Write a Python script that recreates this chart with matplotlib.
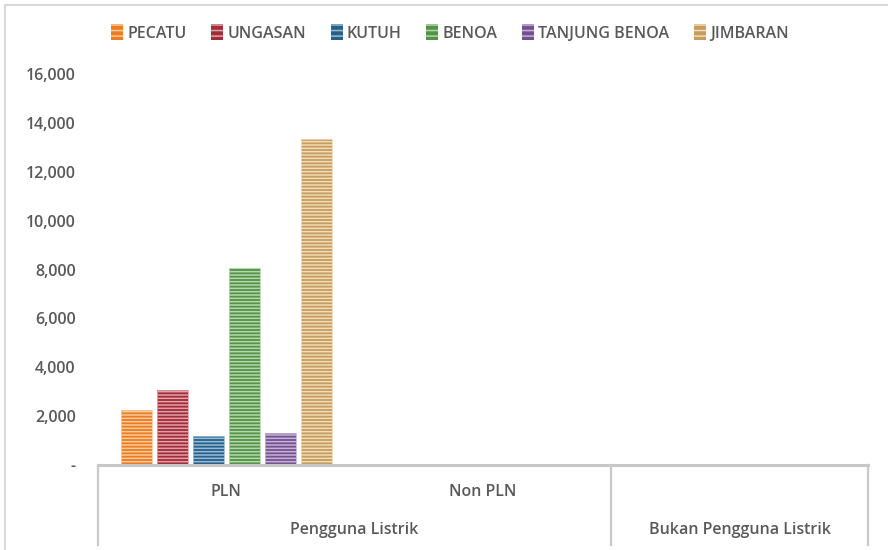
import matplotlib
matplotlib.use("Agg")
import matplotlib.pyplot as plt
from matplotlib.patches import Rectangle, Patch
from matplotlib.ticker import FuncFormatter

plt.rcParams['font.family'] = ['Open Sans', 'DejaVu Sans']

# ---- data ----
categories = ["PLN", "Non PLN", ""]
groups = ["Pengguna Listrik", "Bukan Pengguna Listrik"]
series = ["PECATU", "UNGASAN", "KUTUH", "BENOA", "TANJUNG BENOA", "JIMBARAN"]
pecatu = [2250, 0, 0]
ungasan = [3070, 0, 0]
kutuh = [1200, 0, 0]
benoa = [8050, 0, 0]
tanjung_benoa = [1300, 0, 0]
jimbaran = [13320, 0, 0]
yticks = [0, 2000, 4000, 6000, 8000, 10000, 12000, 14000, 16000]

values = [pecatu, ungasan, kutuh, benoa, tanjung_benoa, jimbaran]
face = ["#EA7C24", "#A22C39", "#265F89", "#539347", "#735190", "#C59C5B"]
hatchc = ["#FACB9A", "#DFA0A8", "#98BCD6", "#B5D7AC", "#C6B1D7", "#EFDCB9"]

W, H = 888, 550
fig = plt.figure(figsize=(W / 100, H / 100), dpi=100)
ax = fig.add_axes([98 / W, 1 - 465 / H, (868 - 98) / W, (465 - 74) / H])

plt.rcParams['hatch.linewidth'] = 1.1
step = 0.14
bw = 0.121
for i, (name, vals) in enumerate(zip(series, values)):
    for j, v in enumerate(vals):
        if v <= 0:
            continue
        x = j + (i - 2.5) * step
        ax.bar(x, v, width=bw, color=face[i], edgecolor=hatchc[i],
               hatch='-----', linewidth=0, zorder=2)
        ax.bar(x, v, width=bw, facecolor='none', edgecolor=hatchc[i],
               linewidth=0.6, zorder=3)

ax.set_xlim(-0.5, 2.5)
ax.set_ylim(0, 16000)
ax.set_yticks(yticks)
ax.yaxis.set_major_formatter(FuncFormatter(lambda v, p: "-" if v == 0 else f"{int(v):,}"))
ax.tick_params(axis='y', length=0, pad=16, labelsize=11.5, labelcolor="#595959")
for lab in ax.get_yticklabels():
    lab.set_fontweight('semibold')
ax.set_xticks([])
for s in ax.spines.values():
    s.set_visible(False)

grey = "#C8C8C8"
ax.axhline(0, color=grey, lw=2.2, zorder=4, clip_on=False)
tr = ax.get_xaxis_transform()
for xv in [-0.5, 1.5, 2.5]:
    ax.plot([xv, xv], [0, -0.205], transform=tr, color=grey, lw=1.6, clip_on=False)

tcol = "#595959"
for j, c in enumerate(categories):
    if c:
        ax.text(j, -0.069, c, transform=tr, ha='center', va='center',
                fontsize=11.5, color=tcol, fontweight='semibold')
ax.text(0.5, -0.166, groups[0], transform=tr, ha='center', va='center',
        fontsize=11.5, color=tcol, fontweight='semibold')
ax.text(2.0, -0.166, groups[1], transform=tr, ha='center', va='center',
        fontsize=11.5, color=tcol, fontweight='semibold')

handles = [Patch(facecolor=face[i], edgecolor=hatchc[i], hatch='---', linewidth=0)
           for i in range(len(series))]
fig.legend(handles, series, loc='center', bbox_to_anchor=(450 / W, 1 - 33 / H),
           ncol=6, frameon=False, prop={'size': 11.5, 'weight': 'semibold'},
           labelcolor=tcol, handlelength=0.75, handleheight=1.1,
           handletextpad=0.25, columnspacing=1.55)

fig.patches.append(Rectangle((5 / W, -0.01), 1.0, 1 - 5 / H + 0.01,
                             transform=fig.transFigure, fill=False,
                             edgecolor="#D9D9D9", lw=1.5))

fig.savefig("out.png", dpi=100, facecolor="white")
